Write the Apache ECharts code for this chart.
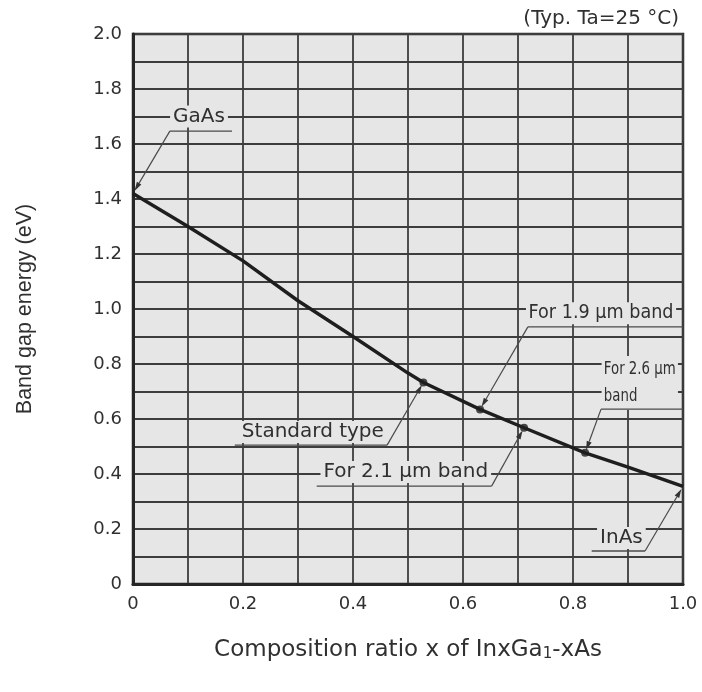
<!DOCTYPE html>
<html>
<head>
<meta charset="utf-8">
<script src="https://cdn.jsdelivr.net/npm/echarts@6/dist/echarts.min.js"></script>
<style>
  html, body { margin: 0; padding: 0; background: #ffffff; }
  #chart { width: 702px; height: 692px; }
</style>
</head>
<body>
<div id="chart"></div>
<script>
// Band gap energy of InxGa1-xAs versus composition ratio x
const compositionX = [0, 0.1, 0.2, 0.3, 0.4, 0.5, 0.528, 0.631, 0.711, 0.822, 0.9, 1.0];
const bandGapEV    = [1.42, 1.30, 1.175, 1.03, 0.90, 0.767, 0.733, 0.635, 0.568, 0.477, 0.425, 0.355];

// Marked compositions along the curve
const markerNames = ['GaAs', 'Standard type', 'For 2.1 µm band', 'For 1.9 µm band', 'For 2.6 µm\nband', 'InAs'];
const markerX     = [0, 0.528, 0.711, 0.631, 0.822, 1.0];
const markerY     = [1.42, 0.733, 0.568, 0.635, 0.477, 0.355];
const markerDot   = [false, true, true, true, true, false];

// Axis tick labels
const xTickLabels = ['0', '0.2', '0.4', '0.6', '0.8', '1.0'];
const yTickLabels = ['0', '0.2', '0.4', '0.6', '0.8', '1.0', '1.2', '1.4', '1.6', '1.8', '2.0'];

// Callout placement in axis units: text anchor, underline span and which end the leader leaves from
const calloutLayout = [
  { text: [0.12, 1.70],   align: 'center', under: [0.067, 0.18, 1.647],  from: 'left',  size: 20, squeeze: 1 },
  { text: [0.327, 0.553], align: 'center', under: [0.185, 0.462, 0.505], from: 'right', size: 20, squeeze: 1 },
  { text: [0.496, 0.407], align: 'center', under: [0.334, 0.652, 0.356], from: 'right', size: 20, squeeze: 1 },
  { text: [0.851, 0.985], align: 'center', under: [0.718, 1.0, 0.935],   from: 'left',  size: 20, squeeze: 0.88 },
  { text: [0.852, 0.731], align: 'left',   under: [0.851, 1.0, 0.636],   from: 'left',  size: 18, squeeze: 0.74, lineHeight: 27 },
  { text: [0.888, 0.167], align: 'center', under: [0.834, 0.931, 0.12],  from: 'right', size: 20, squeeze: 1 }
];

const PLOT_BG = '#e6e6e6';
const INK = '#262626';
const GRID_INK = '#3d3d3d';
const TEXT_INK = '#303030';
const FONT = '"DejaVu Sans", Verdana, sans-serif';

function tickFormatter(list) {
  return function (v) {
    const k = Math.round(v * 10);
    if (k % 2 !== 0) return '';
    return list[k / 2];
  };
}

const calloutData = markerNames.map((n, i) => [markerX[i], markerY[i], i]);

function renderCallout(params, api) {
  const i = api.value(2);
  const lay = calloutLayout[i];
  const pt = api.coord([api.value(0), api.value(1)]);
  const tp = api.coord(lay.text);
  const u1 = api.coord([lay.under[0], lay.under[2]]);
  const u2 = api.coord([lay.under[1], lay.under[2]]);
  const start = lay.from === 'left' ? u1 : u2;
  const dx = pt[0] - start[0], dy = pt[1] - start[1];
  const len = Math.sqrt(dx * dx + dy * dy);
  const ux = dx / len, uy = dy / len;
  const tip = [pt[0] - ux * 3, pt[1] - uy * 3];
  const base = [tip[0] - ux * 9, tip[1] - uy * 9];
  const px = -uy, py = ux;
  const children = [
    {
      type: 'text',
      z2: 1,
      x: tp[0], y: tp[1],
      scaleX: lay.squeeze,
      style: {
        x: 0, y: 0,
        text: markerNames[i],
        align: lay.align,
        verticalAlign: 'middle',
        fill: TEXT_INK,
        font: lay.size + 'px ' + FONT,
        lineHeight: lay.lineHeight || 22,
        backgroundColor: PLOT_BG,
        padding: [0, 3]
      }
    },
    {
      type: 'line', z2: 2,
      shape: { x1: u1[0], y1: u1[1], x2: u2[0], y2: u2[1] },
      style: { stroke: '#4a4a4a', lineWidth: 1.4 }
    },
    {
      type: 'line', z2: 2,
      shape: { x1: start[0], y1: start[1], x2: base[0], y2: base[1] },
      style: { stroke: '#4a4a4a', lineWidth: 1.2 }
    },
    {
      type: 'polygon', z2: 2,
      shape: { points: [tip, [base[0] + px * 2.6, base[1] + py * 2.6], [base[0] - px * 2.6, base[1] - py * 2.6]] },
      style: { fill: '#333333' }
    }
  ];
  return { type: 'group', children: children };
}

const chart = echarts.init(document.getElementById('chart'), null, { renderer: 'canvas' });

chart.setOption({
  animation: false,
  backgroundColor: '#ffffff',
  grid: {
    left: 133, top: 34, width: 550, height: 550,
    show: true,
    backgroundColor: PLOT_BG,
    borderColor: INK,
    borderWidth: 2.5
  },
  title: {
    text: '(Typ. Ta=25 °C)',
    right: 18, top: 4,
    textStyle: { fontFamily: FONT, fontSize: 20, fontWeight: 'normal', color: TEXT_INK }
  },
  xAxis: {
    type: 'value', min: 0, max: 1, interval: 0.1,
    axisLine: { show: true, lineStyle: { color: INK, width: 3 } },
    axisTick: { show: false },
    splitLine: { show: true, lineStyle: { color: GRID_INK, width: 1.8 } },
    axisLabel: {
      formatter: tickFormatter(xTickLabels),
      margin: 11,
      fontFamily: FONT, fontSize: 18, color: TEXT_INK
    },
    name: '{a|Composition ratio x of InxGa}{s|1}{a|-xAs}',
    nameLocation: 'middle',
    nameGap: 55,
    nameTextStyle: {
      rich: {
        a: { fontFamily: FONT, fontSize: 23, color: TEXT_INK },
        s: { fontFamily: FONT, fontSize: 15, color: TEXT_INK, verticalAlign: 'bottom', padding: [8, 0, 0, 0] }
      }
    }
  },
  yAxis: {
    type: 'value', min: 0, max: 2, interval: 0.1,
    axisLine: { show: true, lineStyle: { color: INK, width: 3 } },
    axisTick: { show: false },
    splitLine: { show: true, lineStyle: { color: GRID_INK, width: 1.8 } },
    axisLabel: {
      formatter: tickFormatter(yTickLabels),
      margin: 11,
      fontFamily: FONT, fontSize: 18, color: TEXT_INK
    },
    name: 'Band gap energy (eV)',
    nameLocation: 'middle',
    nameGap: 97,
    nameTextStyle: { fontFamily: '"Liberation Sans", Arial, sans-serif', fontSize: 21.5, color: TEXT_INK }
  },
  series: [
    {
      type: 'custom',
      renderItem: renderCallout,
      data: calloutData,
      clip: false,
      z: 3,
      silent: true
    },
    {
      type: 'line',
      data: compositionX.map((x, i) => [x, bandGapEV[i]]),
      showSymbol: false,
      lineStyle: { color: '#1e1e1e', width: 3.4 },
      z: 4,
      silent: true
    },
    {
      type: 'scatter',
      data: markerX.map((x, i) => [x, markerY[i]]).filter((d, i) => markerDot[i]),
      symbolSize: 8,
      itemStyle: { color: '#1e1e1e' },
      z: 5,
      silent: true
    }
  ]
});
</script>
</body>
</html>
